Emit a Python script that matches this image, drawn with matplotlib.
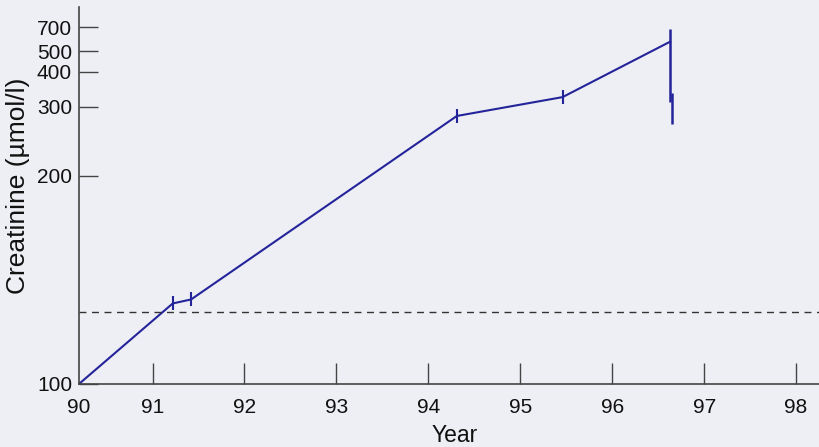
import matplotlib.pyplot as plt
import numpy as np

plt.rcParams['font.family'] = ['Liberation Sans', 'DejaVu Sans']

# data
year = [90.2, 91.22, 91.42, 94.31, 95.46, 96.63]
creat = [100, 124, 125.5, 281, 322, 564]
tick_year = [91.22, 91.42, 94.31, 95.46]
tick_creat = [124, 125.5, 281, 322]
bar1_year, bar1_lo, bar1_hi = 96.63, 310, 680
bar2_year, bar2_lo, bar2_hi = 96.65, 267, 333
ref_level = 121

xticks = [90.2, 91, 92, 93, 94, 95, 96, 97, 98]
xlabels = ['90', '91', '92', '93', '94', '95', '96', '97', '98']
yticks = [100, 200, 300, 400, 500, 700]

line_col = '#24249a'
bg = '#eeeef5'


def recip(v):
    # reciprocal scale: 1/creatinine, flipped so larger values sit higher
    v = np.clip(np.asarray(v, float), 1e-3, None)
    return -1.0 / v


def recip_inv(v):
    v = np.clip(np.asarray(v, float), None, -1e-9)
    return -1.0 / v


fig = plt.figure(figsize=(8.2, 4.47), dpi=100, facecolor=bg)
ax = fig.add_axes([0.0963, 0.141, 0.9037, 0.843], facecolor=bg)
ax.set_ylim(100, 1060)
ax.set_yscale('function', functions=(recip, recip_inv))

ax.plot(year, creat, color=line_col, lw=1.5)
ax.plot(tick_year, tick_creat, ls='none', marker='|', ms=10, mew=1.5, color=line_col)
ax.vlines(bar1_year, bar1_lo, bar1_hi, color=line_col, lw=1.8)
ax.vlines(bar2_year, bar2_lo, bar2_hi, color=line_col, lw=1.8)
ax.axhline(ref_level, color='#333333', lw=1.0, ls=(0, (5, 4)))

ax.set_xlim(90.2, 98.26)
ax.set_ylim(100, 1060)
ax.set_xticks(xticks)
ax.set_xticklabels(xlabels)
ax.set_yticks(yticks)
ax.set_yticklabels([str(t) for t in yticks])
ax.minorticks_off()

for s in ['top', 'right']:
    ax.spines[s].set_visible(False)
for s in ['left', 'bottom']:
    ax.spines[s].set_color('#444444')
    ax.spines[s].set_linewidth(1.2)

ax.tick_params(axis='x', direction='in', length=15, width=1.0, color='#444444',
               labelsize=15, pad=10, labelcolor='#111111')
ax.tick_params(axis='y', direction='in', length=14, width=1.0, color='#444444',
               labelsize=15, pad=5, labelcolor='#111111')
ax.xaxis.get_major_ticks()[0].tick1line.set_visible(False)

fig.text(455 / 820, 1 - 435 / 447, 'Year', fontsize=16.5, ha='center', va='center',
         color='#111111')
fig.text(18 / 820, 1 - 186 / 447, 'Creatinine (µmol/l)', fontsize=19, rotation=90,
         ha='center', va='center', color='#111111')

fig.savefig('out.png', dpi=100, facecolor=bg)
